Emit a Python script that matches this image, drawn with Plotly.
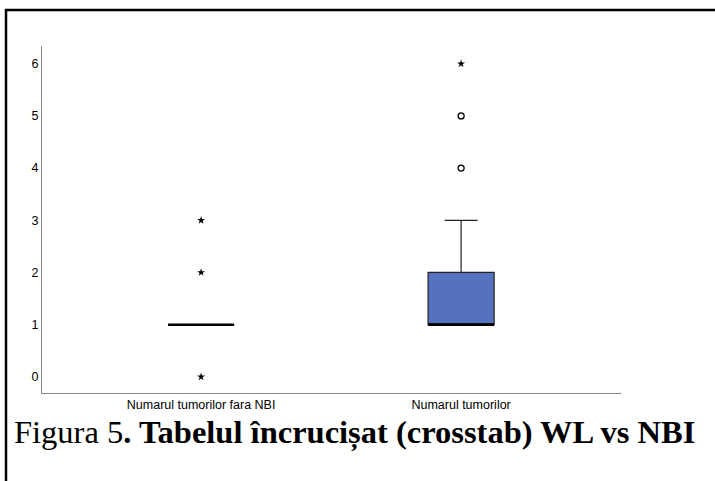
import plotly.graph_objects as go

categories = ["Numarul tumorilor fara NBI", "Numarul tumorilor"]
q1 = [1, 1]
median = [1, 1]
q3 = [1, 2]
lower_fence = [1, 1]
upper_fence = [1, 3]
extreme_cat = [0, 0, 0, 1]
extreme_val = [0, 2, 3, 6]
mild_cat = [1, 1]
mild_val = [4, 5]
yticks = [0, 1, 2, 3, 4, 5, 6]

fig = go.Figure()
for i, c in enumerate(categories):
    fig.add_trace(go.Box(
        x=[i], q1=[q1[i]], median=[median[i]], q3=[q3[i]],
        lowerfence=[lower_fence[i]], upperfence=[upper_fence[i]],
        width=0.254, whiskerwidth=0.5,
        fillcolor="#5472BE", line=dict(color="#222222", width=1.2),
        boxpoints=False, showlegend=False, hoverinfo="skip",
    ))
# thick median lines
fig.add_trace(go.Scatter(
    x=[-0.127, 0.127, None, 0.873, 1.127], y=[median[0], median[0], None, median[1], median[1]],
    mode="lines", line=dict(color="black", width=2.5), showlegend=False, hoverinfo="skip"))
fig.add_trace(go.Scatter(
    x=extreme_cat, y=extreme_val, mode="markers",
    marker=dict(symbol="star", size=6, color="black"), showlegend=False))
fig.add_trace(go.Scatter(
    x=mild_cat, y=mild_val, mode="markers",
    marker=dict(symbol="circle-open", size=6, color="black", line=dict(width=1.3)), showlegend=False))

W, H = 715, 481
L, R, T, B = 42, 94, 46, 88
pw, ph = W - L - R, H - T - B

def px(x):
    return (x - L) / pw

def py(y):
    return (H - B - y) / ph

fig.update_layout(
    width=W, height=H,
    margin=dict(l=L, r=R, t=T, b=B),
    paper_bgcolor="white", plot_bgcolor="white",
    font=dict(family="Liberation Sans, Arial", color="black"),
    xaxis=dict(range=[-0.612, 1.615], tickvals=[0, 1], ticktext=categories,
               showgrid=False, zeroline=False, showline=True, linecolor="#888888", linewidth=1,
               ticks="", tickfont=dict(size=12.5, color="black")),
    yaxis=dict(range=[-0.31, 6.34], tickvals=yticks, showgrid=False, zeroline=False,
               showline=True, linecolor="#888888", linewidth=1, ticks="",
               tickfont=dict(size=12.5, color="black", family="Liberation Sans, Arial")),
    shapes=[
        dict(type="line", xref="paper", yref="paper", x0=px(5), x1=px(716), y0=py(10), y1=py(10),
             line=dict(color="black", width=2.5)),
        dict(type="line", xref="paper", yref="paper", x0=px(6), x1=px(6), y0=py(9), y1=py(482),
             line=dict(color="black", width=2.5)),
    ],
    annotations=[dict(
        xref="paper", yref="paper", x=px(12), y=py(432), xanchor="left", yanchor="middle",
        showarrow=False,
        text="Figura 5<b>. Tabelul încrucișat (crosstab) WL vs NBI</b>",
        font=dict(family="Liberation Serif, Times New Roman", size=32.5, color="black"))],
)
fig.write_html("out.html", config={"displayModeBar": False},
               post_script="document.body.style.margin='0px';")
